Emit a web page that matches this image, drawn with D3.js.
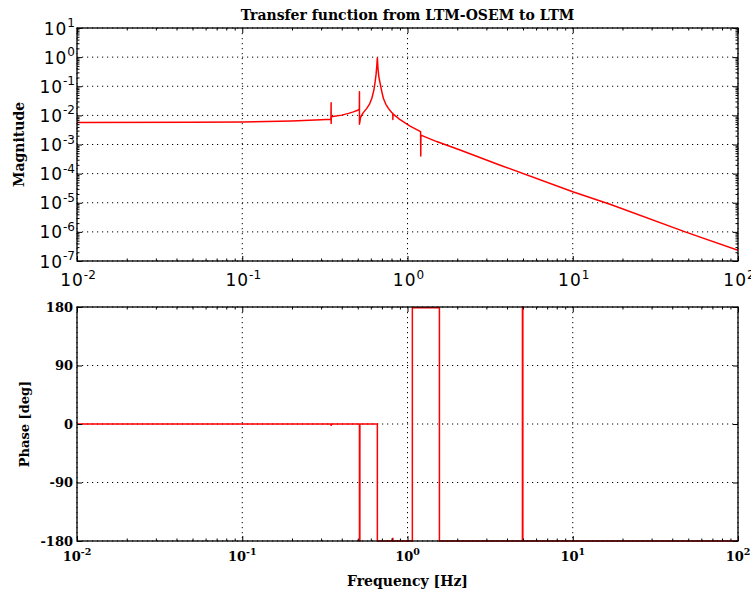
<!DOCTYPE html>
<html><head><meta charset="utf-8">
<script src="https://cdn.jsdelivr.net/npm/d3@7"></script>
<style>body{margin:0;background:#fff}</style></head>
<body>
<svg id="chart" width="751" height="595"></svg>
<script>
// ---------- data ----------
const chartTitle = "Transfer function from LTM-OSEM to LTM";
const xAxisLabel = "Frequency [Hz]";
const magAxisLabel = "Magnitude";
const phaseAxisLabel = "Phase [deg]";
const xTickExponents = [-2, -1, 0, 1, 2];
const magTickExponents = [-7, -6, -5, -4, -3, -2, -1, 0, 1];
const phaseTicks = [-180, -90, 0, 90, 180];

const magFreq = [0.01, 0.05, 0.1, 0.2, 0.3, 0.344, 0.345, 0.3451, 0.346, 0.40, 0.44, 0.47, 0.50, 0.511,
  0.512, 0.5121, 0.52, 0.536, 0.567, 0.59, 0.608, 0.625, 0.637, 0.645, 0.652, 0.657, 0.662, 0.670,
  0.683, 0.70, 0.715, 0.74, 0.766, 0.80, 0.815, 0.8155, 0.816, 0.86, 0.902, 1.037, 1.20, 1.203, 1.206,
  1.5, 2.08, 3.64, 10, 16.8, 47.9, 100];
const magValue = [5.75e-3, 5.8e-3, 5.95e-3, 6.45e-3, 7.1e-3, 7.4e-3, 2.7e-2, 5.25e-3, 8.9e-3, 1.02e-2, 1.17e-2, 1.32e-2, 1.5e-2, 1.66e-2,
  6.5e-2, 5.0e-3, 8.5e-3, 1.17e-2, 1.74e-2, 2.5e-2, 3.8e-2, 7.1e-2, 0.141, 0.25, 0.5, 0.95, 0.45, 0.22,
  0.126, 0.063, 0.038, 0.024, 0.0174, 0.0129, 0.0115, 0.0072, 0.0112, 8.9e-3, 7.1e-3, 4.3e-3, 2.75e-3, 4.0e-4, 2.1e-3,
  1.26e-3, 6.5e-4, 1.95e-4, 2.4e-5, 8.9e-6, 1.0e-6, 2.35e-7];

const phaseFreq = [0.01, 0.344, 0.345, 0.346, 0.512, 0.5121, 0.515, 0.5151, 0.657, 0.6571, 0.815, 0.8155, 0.816,
  1.07, 1.0701, 1.56, 1.5601, 4.96, 4.961, 4.99, 4.991, 100];
const phaseValue = [0, 0, -3, 0, 0, -180, -180, 0, 0, -180, -180, -175, -180,
  -180, 179, 179, -180, -180, 180, 180, -180, -180];

// ---------- layout ----------
const svg = d3.select("#chart");
const L = 77, R = 738;
const magTop = 28, magBot = 261;
const phTop = 307, phBot = 541;
const serif = "'DejaVu Serif', serif";
const sans = "'DejaVu Sans', sans-serif";

const x = d3.scaleLog().domain([1e-2, 1e2]).range([L, R]);
const yMag = d3.scaleLog().domain([1e-7, 1e1]).range([magBot, magTop]);
const yPh = d3.scaleLinear().domain([-180, 180]).range([phBot, phTop]);

const xMajor = xTickExponents.map(e => Math.pow(10, e));
const xMinor = [];
xTickExponents.slice(0, -1).forEach(e => { for (let m = 2; m <= 9; m++) xMinor.push(m * Math.pow(10, e)); });
const magMajor = magTickExponents.map(e => Math.pow(10, e));
const magMinor = [];
magTickExponents.slice(0, -1).forEach(e => { for (let m = 2; m <= 9; m++) magMinor.push(m * Math.pow(10, e)); });

function grid(g, xs, ys, yScale, top, bot) {
  g.selectAll(".gx").data(xs).join("line")
    .attr("x1", d => x(d)).attr("x2", d => x(d)).attr("y1", top).attr("y2", bot);
  g.selectAll(".gy").data(ys).join("line").attr("class", "gy")
    .attr("x1", L).attr("x2", R).attr("y1", d => yScale(d)).attr("y2", d => yScale(d));
  g.selectAll("line").attr("stroke", "#000").attr("stroke-width", 1)
    .attr("stroke-dasharray", "1.2,3.8");
}

function ticks(yScale, top, bot, yMajorVals, yMinorVals) {
  const g = svg.append("g");
  const clean = sel => { sel.select(".domain").remove(); sel.selectAll("text").remove();
    sel.selectAll("line").attr("stroke", "#000").attr("stroke-width", 1); };
  g.append("g").attr("transform", `translate(0,${bot})`)
    .call(d3.axisBottom(x).tickValues(xMajor).tickSize(-5)).call(clean);
  g.append("g").attr("transform", `translate(0,${bot})`)
    .call(d3.axisBottom(x).tickValues(xMinor).tickSize(-2.5)).call(clean);
  g.append("g").attr("transform", `translate(0,${top})`)
    .call(d3.axisTop(x).tickValues(xMajor).tickSize(-5)).call(clean);
  g.append("g").attr("transform", `translate(0,${top})`)
    .call(d3.axisTop(x).tickValues(xMinor).tickSize(-2.5)).call(clean);
  g.append("g").attr("transform", `translate(${L},0)`)
    .call(d3.axisLeft(yScale).tickValues(yMajorVals).tickSize(-5)).call(clean);
  g.append("g").attr("transform", `translate(${R},0)`)
    .call(d3.axisRight(yScale).tickValues(yMajorVals).tickSize(-5)).call(clean);
  if (yMinorVals) {
    g.append("g").attr("transform", `translate(${L},0)`)
      .call(d3.axisLeft(yScale).tickValues(yMinorVals).tickSize(-2.5)).call(clean);
    g.append("g").attr("transform", `translate(${R},0)`)
      .call(d3.axisRight(yScale).tickValues(yMinorVals).tickSize(-2.5)).call(clean);
  }
}

function frame(top, bot) {
  svg.append("rect").attr("x", L).attr("y", top).attr("width", R - L).attr("height", bot - top)
    .attr("fill", "none").attr("stroke", "#000").attr("stroke-width", 1.3);
}

function powLabel(g, xp, yp, exp, anchor, font, size, supSize, weight, sup) {
  const t = g.append("text").attr("x", xp).attr("y", yp).attr("text-anchor", anchor)
    .attr("font-family", font).attr("font-size", size).attr("font-weight", weight).attr("fill", "#000");
  t.append("tspan").text("10").attr("letter-spacing", weight === "bold" ? 0 : 1);
  t.append("tspan").attr("dy", -sup).attr("font-size", supSize).text(exp < 0 ? "-" + (-exp) : String(exp));
  return t;
}

// ---------- magnitude panel ----------
const clipM = svg.append("clipPath").attr("id", "clipM").append("rect")
  .attr("x", L).attr("y", magTop - 1).attr("width", R - L).attr("height", magBot - magTop + 2);
grid(svg.append("g"), xMajor, magMajor, yMag, magTop, magBot);

const magData = magFreq.map((f, i) => [f, magValue[i]]);
svg.append("path").datum(magData)
  .attr("clip-path", "url(#clipM)")
  .attr("d", d3.line().x(d => x(d[0])).y(d => yMag(d[1])))
  .attr("fill", "none").attr("stroke", "#ff0000").attr("stroke-width", 1.5).attr("stroke-linejoin", "round");

ticks(yMag, magTop, magBot, magMajor, magMinor);
frame(magTop, magBot);

const labM = svg.append("g");
magTickExponents.forEach(e => powLabel(labM, 75, yMag(Math.pow(10, e)) + 6.5, e, "end", sans, 17, 12, "normal", 7.5));
xTickExponents.forEach(e => powLabel(labM, x(Math.pow(10, e)) + 1, 286, e, "middle", sans, 17, 12, "normal", 7.5));

svg.append("text").attr("x", (L + R) / 2).attr("y", 20).attr("text-anchor", "middle")
  .attr("font-family", serif).attr("font-weight", "bold").attr("font-size", 14).text(chartTitle);
svg.append("text").attr("transform", `translate(24,${(magTop + magBot) / 2}) rotate(-90)`)
  .attr("text-anchor", "middle").attr("font-family", serif).attr("font-weight", "bold")
  .attr("font-size", 14).text(magAxisLabel);

// ---------- phase panel ----------
grid(svg.append("g"), xMajor, phaseTicks, yPh, phTop, phBot);
const phData = phaseFreq.map((f, i) => [f, phaseValue[i]]);
svg.append("path").datum(phData)
  .attr("d", d3.line().x(d => x(d[0])).y(d => yPh(d[1])))
  .attr("fill", "none").attr("stroke", "#ff0000").attr("stroke-width", 1.5);
ticks(yPh, phTop, phBot, phaseTicks, null);
frame(phTop, phBot);

const labP = svg.append("g");
phaseTicks.forEach(v => labP.append("text").attr("x", 73).attr("y", yPh(v) + 4.5)
  .attr("text-anchor", "end").attr("font-family", serif).attr("font-weight", "bold")
  .attr("font-size", 13).text(String(v)));
xTickExponents.forEach(e => powLabel(labP, x(Math.pow(10, e)), 561, e, "middle", serif, 13, 9.5, "bold", 6));

svg.append("text").attr("x", (L + R) / 2).attr("y", 586).attr("text-anchor", "middle")
  .attr("font-family", serif).attr("font-weight", "bold").attr("font-size", 14).text(xAxisLabel);
svg.append("text").attr("transform", `translate(29,${yPh(0)}) rotate(-90)`)
  .attr("text-anchor", "middle").attr("font-family", serif).attr("font-weight", "bold")
  .attr("font-size", 13).text(phaseAxisLabel);
</script>
</body></html>
